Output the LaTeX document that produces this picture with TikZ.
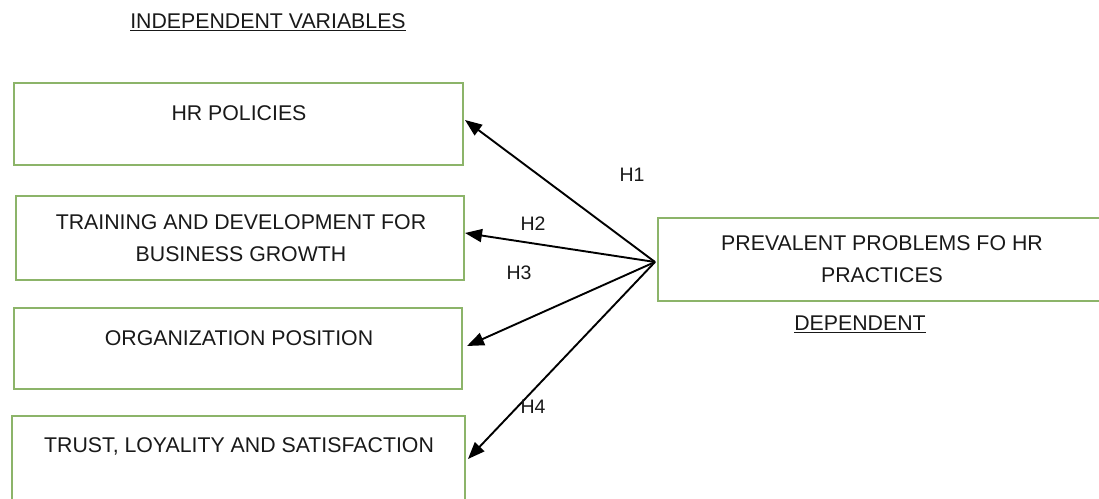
\documentclass[tikz,border=0pt]{standalone}
\usepackage{fontspec}
\setmainfont{Liberation Sans}
\usetikzlibrary{arrows.meta}
\definecolor{boxgreen}{RGB}{140,180,105}
\definecolor{inkgray}{RGB}{25,25,25}
\begin{document}
\begin{tikzpicture}[x=1bp,y=-1bp,
  varbox/.style={draw=boxgreen,line width=2bp,fill=white,inner sep=0pt},
  lbl/.style={text=inkgray,font=\fontsize{21.3bp}{31.5bp}\selectfont,align=center,inner sep=0pt},
  hyp/.style={text=inkgray,font=\fontsize{19.5bp}{22bp}\selectfont,inner sep=0pt},
  link/.style={draw=black,line width=1.9bp,-{Triangle[length=17bp,width=13bp]}}]
\useasboundingbox[fill=white] (0,0) rectangle (1099,499);

% headings
\node[lbl] (indep) at (268,22.5) {\underline{INDEPENDENT VARIABLES}};
\node[lbl] (dephead) at (860,324) {\underline{DEPENDENT}};

% independent variable boxes
\node[varbox,minimum width=449bp,minimum height=82bp] (b1) at (238.5,124) {};
\node[varbox,minimum width=447bp,minimum height=84bp] (b2) at (240,238.5) {};
\node[varbox,minimum width=448bp,minimum height=81bp] (b3) at (238,348.5) {};
\node[varbox,minimum width=453bp,minimum height=86bp] (b4) at (238.5,459) {};

\node[lbl] (t1) at (239,113) {HR POLICIES};
\node[lbl] (t2) at (241,238) {TRAINING AND DEVELOPMENT FOR\\BUSINESS GROWTH};
\node[lbl] (t3) at (239,338) {ORGANIZATION POSITION};
\node[lbl] (t4) at (239,446) {TRUST, LOYALITY AND SATISFACTION};

% dependent variable box
\node[varbox,minimum width=446bp,minimum height=83bp] (dep) at (881,259.5) {};
\node[lbl] (tdep) at (882,259) {PREVALENT PROBLEMS FO HR\\PRACTICES};

% arrow end points at the boxes
\coordinate (e1) at (465,120);
\coordinate (e2) at (465,233);
\coordinate (e3) at (467,346);
\coordinate (e4) at (468,459);
\coordinate (src) at (655,262);

\draw[link] (src) -- (e1);
\draw[link] (src) -- (e2);
\draw[link] (src) -- (e3);
\draw[link] (src) -- (e4);

% hypothesis labels
\node[hyp] (h1) at (632,175) {H1};
\node[hyp] (h2) at (533,223.5) {H2};
\node[hyp] (h3) at (519,272.5) {H3};
\node[hyp] (h4) at (533,406.5) {H4};
\end{tikzpicture}
\end{document}
